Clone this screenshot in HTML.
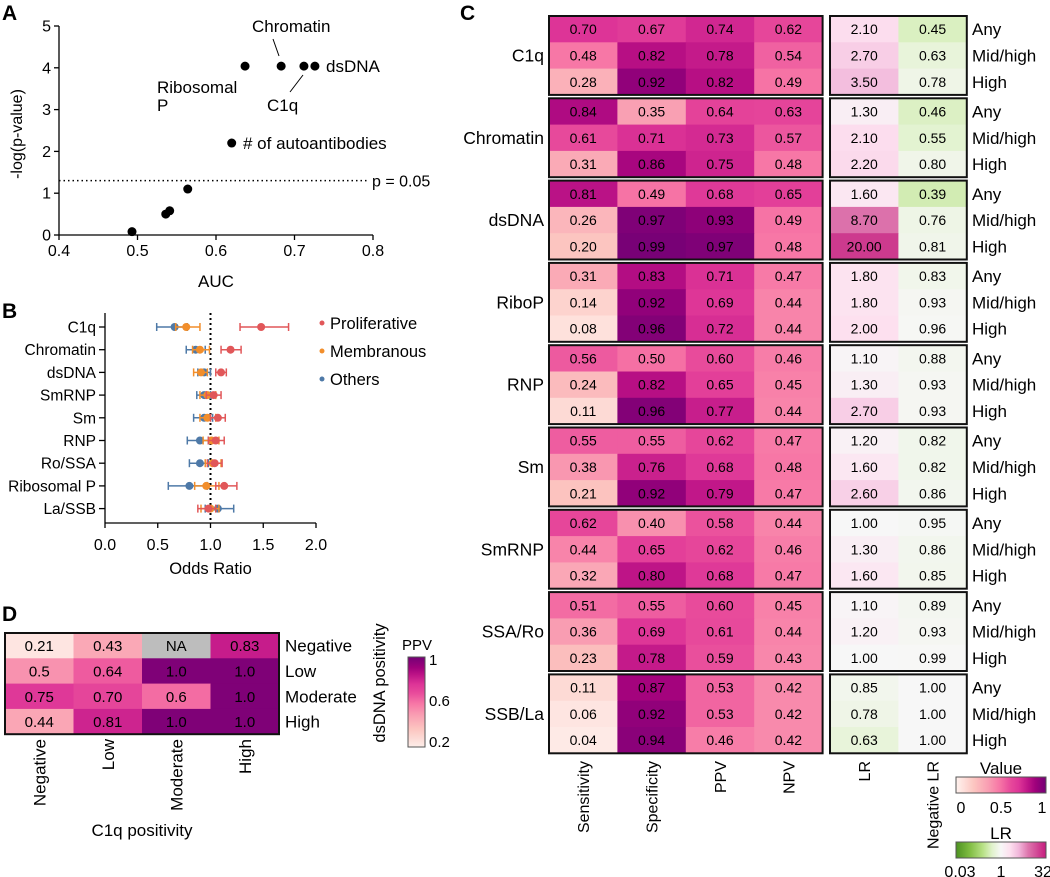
<!DOCTYPE html>
<html><head><meta charset="utf-8">
<style>
html,body{margin:0;padding:0;background:#fff;}
svg{display:block;font-family:"Liberation Sans",Arial,sans-serif;}
</style></head>
<body>
<svg id="fig" width="1050" height="877" viewBox="0 0 1050 877" xmlns="http://www.w3.org/2000/svg">
<defs>
<linearGradient id="gValue" x1="0" x2="1" y1="0" y2="0">
<stop offset="0" stop-color="#fff3ef"/><stop offset="0.2" stop-color="#fcc5c0"/><stop offset="0.36" stop-color="#f99db2"/><stop offset="0.48" stop-color="#f777a6"/><stop offset="0.6" stop-color="#e84b9b"/><stop offset="0.7" stop-color="#dd3497"/><stop offset="0.8" stop-color="#be1487"/><stop offset="0.88" stop-color="#a0017c"/><stop offset="1" stop-color="#740175"/>
</linearGradient>
<linearGradient id="gPPV" x1="0" x2="0" y1="1" y2="0">
<stop offset="0" stop-color="#fdeee9"/><stop offset="0.2" stop-color="#fcc5c0"/><stop offset="0.36" stop-color="#f99db2"/><stop offset="0.48" stop-color="#f777a6"/><stop offset="0.6" stop-color="#e84b9b"/><stop offset="0.7" stop-color="#dd3497"/><stop offset="0.8" stop-color="#be1487"/><stop offset="0.88" stop-color="#a0017c"/><stop offset="1" stop-color="#740175"/>
</linearGradient>
<linearGradient id="gLR" x1="0" x2="1" y1="0" y2="0">
<stop offset="0" stop-color="#4d9221"/><stop offset="0.15" stop-color="#7fbc41"/><stop offset="0.3" stop-color="#b8e186"/><stop offset="0.4" stop-color="#e0f2cb"/><stop offset="0.5" stop-color="#f7f7f7"/><stop offset="0.6" stop-color="#fde0ef"/><stop offset="0.7" stop-color="#f1b6da"/><stop offset="0.8" stop-color="#de77ae"/><stop offset="1" stop-color="#c51b7d"/>
</linearGradient>
</defs>
</svg>
<script>
// ---------- Panel A data ----------
const aucValues = [0.493, 0.536, 0.541, 0.564, 0.620, 0.637, 0.683, 0.712, 0.726];
const negLogP   = [0.08, 0.50, 0.58, 1.10, 2.20, 4.04, 4.04, 4.04, 4.04];
const aXTicks = [0.4, 0.5, 0.6, 0.7, 0.8];
const aYTicks = [0, 1, 2, 3, 4, 5];
const pThreshold = 1.3;

// ---------- Panel B data ----------
const bCategories = ["C1q","Chromatin","dsDNA","SmRNP","Sm","RNP","Ro/SSA","Ribosomal P","La/SSB"];
const prolifOR = [1.48, 1.19, 1.10, 1.03, 1.07, 1.05, 1.04, 1.13, 0.98];
const prolifLo = [1.28, 1.10, 1.05, 0.96, 1.00, 0.98, 0.97, 1.05, 0.88];
const prolifHi = [1.74, 1.29, 1.15, 1.10, 1.14, 1.13, 1.11, 1.25, 1.05];
const membrOR  = [0.77, 0.90, 0.91, 0.97, 0.97, 1.01, 1.02, 0.96, 1.00];
const membrLo  = [0.67, 0.83, 0.84, 0.90, 0.90, 0.93, 0.95, 0.85, 0.91];
const membrHi  = [0.90, 0.99, 0.97, 1.05, 1.05, 1.08, 1.10, 1.08, 1.08];
const otherOR  = [0.66, 0.86, 0.94, 0.94, 0.94, 0.90, 0.90, 0.80, 1.07];
const otherLo  = [0.49, 0.77, 0.88, 0.87, 0.84, 0.78, 0.80, 0.60, 0.95];
const otherHi  = [0.78, 0.95, 1.00, 1.00, 1.02, 0.98, 0.98, 0.97, 1.22];
const bXTicks = [0.0, 0.5, 1.0, 1.5, 2.0];

// ---------- Panel C data ----------
const cGroups = ["C1q","Chromatin","dsDNA","RiboP","RNP","Sm","SmRNP","SSA/Ro","SSB/La"];
const cLevels = ["Any","Mid/high","High"];
const cMetrics = ["Sensitivity","Specificity","PPV","NPV","LR","Negative LR"];
const sensitivity = [[0.70,0.48,0.28],[0.84,0.61,0.31],[0.81,0.26,0.20],[0.31,0.14,0.08],[0.56,0.24,0.11],[0.55,0.38,0.21],[0.62,0.44,0.32],[0.51,0.36,0.23],[0.11,0.06,0.04]];
const specificity = [[0.67,0.82,0.92],[0.35,0.71,0.86],[0.49,0.97,0.99],[0.83,0.92,0.96],[0.50,0.82,0.96],[0.55,0.76,0.92],[0.40,0.65,0.80],[0.55,0.69,0.78],[0.87,0.92,0.94]];
const ppv = [[0.74,0.78,0.82],[0.64,0.73,0.75],[0.68,0.93,0.97],[0.71,0.69,0.72],[0.60,0.65,0.77],[0.62,0.68,0.79],[0.58,0.62,0.68],[0.60,0.61,0.59],[0.53,0.53,0.46]];
const npv = [[0.62,0.54,0.49],[0.63,0.57,0.48],[0.65,0.49,0.48],[0.47,0.44,0.44],[0.46,0.45,0.44],[0.47,0.48,0.47],[0.44,0.46,0.47],[0.45,0.44,0.43],[0.42,0.42,0.42]];
const lr = [[2.10,2.70,3.50],[1.30,2.10,2.20],[1.60,8.70,20.00],[1.80,1.80,2.00],[1.10,1.30,2.70],[1.20,1.60,2.60],[1.00,1.30,1.60],[1.10,1.20,1.00],[0.85,0.78,0.63]];
const negLR = [[0.45,0.63,0.78],[0.46,0.55,0.80],[0.39,0.76,0.81],[0.83,0.93,0.96],[0.88,0.93,0.93],[0.82,0.82,0.86],[0.95,0.86,0.85],[0.89,0.93,0.99],[1.00,1.00,1.00]];

// ---------- Panel D data ----------
const dColLabels = ["Negative","Low","Moderate","High"];
const dRowLabels = ["Negative","Low","Moderate","High"];
const dValues = [[0.21,0.43,null,0.83],[0.5,0.64,1.0,1.0],[0.75,0.70,0.6,1.0],[0.44,0.81,1.0,1.0]];
const dText = [["0.21","0.43","NA","0.83"],["0.5","0.64","1.0","1.0"],["0.75","0.70","0.6","1.0"],["0.44","0.81","1.0","1.0"]];

const NS = "http://www.w3.org/2000/svg";
const svg = document.getElementById("fig");
function mk(tag, attrs, parent, text){
  const e = document.createElementNS(NS, tag);
  for (const k in attrs) e.setAttribute(k, attrs[k]);
  if (text !== undefined) e.textContent = text;
  (parent || svg).appendChild(e);
  return e;
}
function hex2rgb(h){return [parseInt(h.substr(1,2),16),parseInt(h.substr(3,2),16),parseInt(h.substr(5,2),16)];}
function interp(stops, t){
  t = Math.max(0, Math.min(1, t));
  for (let i=1;i<stops.length;i++){
    if (t <= stops[i][0]){
      const [t0,c0]=stops[i-1],[t1,c1]=stops[i];
      const f=(t-t0)/(t1-t0), a=hex2rgb(c0), b=hex2rgb(c1);
      return "rgb("+a.map((v,j)=>Math.round(v+(b[j]-v)*f)).join(",")+")";
    }
  }
  return stops[stops.length-1][1];
}
const valStops = [[0,"#fff3ef"],[0.2,"#fcc5c0"],[0.36,"#f99db2"],[0.48,"#f777a6"],[0.6,"#e84b9b"],[0.7,"#dd3497"],[0.8,"#be1487"],[0.88,"#a0017c"],[1,"#740175"]];
const piyg = [[0,"#4d9221"],[0.15,"#7fbc41"],[0.3,"#b8e186"],[0.4,"#e0f2cb"],[0.5,"#f7f7f7"],[0.6,"#fde0ef"],[0.7,"#f1b6da"],[0.8,"#de77ae"],[1,"#c51b7d"]];
function valueColor(v){return interp(valStops, v);}
function lrColor(v){
  const l = Math.log(v);
  const t = l < 0 ? 0.5 - 0.5*(l/Math.log(0.03)) : 0.5 + 0.5*(l/Math.log(32));
  return interp(piyg, t);
}
function ppvColor(v){return interp(valStops, (v-0.2)*1.15+0.05);}

// ================= PANEL A =================
const gA = mk("g", {});


const ax = v => 59 + (v-0.4)/0.4*314;
const ay = v => 235 - v*41.8;
let t = mk("text",{x:2,y:20,"font-size":21,"font-weight":"bold"},gA,"A");


let l = mk("line",{x1:59,y1:26,x2:59,y2:235,stroke:"#000","stroke-width":1.3},gA);


l = mk("line",{x1:59,y1:235,x2:373,y2:235,stroke:"#000","stroke-width":1.3},gA);


aYTicks.forEach(v=>{
  mk("line",{x1:54,y1:ay(v),x2:59,y2:ay(v),stroke:"#000","stroke-width":1.3},gA);
  const tt = mk("text",{x:51,y:ay(v)+5.5,"font-size":16,"text-anchor":"end"},gA,String(v));
  
  
});
aXTicks.forEach(v=>{
  mk("line",{x1:ax(v),y1:235,x2:ax(v),y2:240,stroke:"#000","stroke-width":1.3},gA);
  const tt = mk("text",{x:ax(v),y:256,"font-size":16,"text-anchor":"middle"},gA,v.toFixed(1));
  
  
});
t = mk("text",{x:216,y:287,"font-size":17,"text-anchor":"middle"},gA,"AUC");


t = mk("text",{x:0,y:0,"font-size":16,"text-anchor":"middle",transform:"translate(22,134) rotate(-90)"},gA,"-log(p-value)");


l = mk("line",{x1:59,y1:ay(pThreshold),x2:368,y2:ay(pThreshold),stroke:"#000","stroke-width":1.5,"stroke-dasharray":"1.5,3"},gA);


t = mk("text",{x:372,y:ay(pThreshold)+6,"font-size":16},gA,"p = 0.05");


aucValues.forEach((v,i)=>{
  const c = mk("circle",{cx:ax(v),cy:ay(negLogP[i]),r:4.5,fill:"#000"},gA);
  
  
});
[["Chromatin",252,32],["dsDNA",326,72],["C1q",267,111],["Ribosomal",157,93],["P",157,111],["# of autoantibodies",243,149]].forEach(d=>{
  const tt = mk("text",{x:d[1],y:d[2],"font-size":17},gA,d[0]);
  
  
});
mk("line",{x1:273,y1:39,x2:279,y2:56,stroke:"#000","stroke-width":1},gA);
mk("line",{x1:290,y1:92,x2:303,y2:75,stroke:"#000","stroke-width":1},gA);

// ================= PANEL B =================
const gB = mk("g", {});


const bx = v => 105 + v*105.5;
const by = i => 327 + i*22.7;
t = mk("text",{x:2,y:318,"font-size":21,"font-weight":"bold"},gB,"B");


l = mk("line",{x1:105,y1:313,x2:105,y2:523,stroke:"#000","stroke-width":1.3},gB);


l = mk("line",{x1:105,y1:523,x2:316,y2:523,stroke:"#000","stroke-width":1.3},gB);


bXTicks.forEach(v=>{
  mk("line",{x1:bx(v),y1:523,x2:bx(v),y2:528,stroke:"#000","stroke-width":1.3},gB);
  const tt = mk("text",{x:bx(v),y:550,"font-size":16,"text-anchor":"middle"},gB,v.toFixed(1));
  
  
});
t = mk("text",{x:bx(1),y:574,"font-size":16.5,"text-anchor":"middle"},gB,"Odds Ratio");


l = mk("line",{x1:bx(1),y1:313,x2:bx(1),y2:523,stroke:"#000","stroke-width":2,"stroke-dasharray":"2,3"},gB);


bCategories.forEach((c,i)=>{
  mk("line",{x1:99,y1:by(i),x2:105,y2:by(i),stroke:"#000","stroke-width":1.3},gB);
  const tt = mk("text",{x:96,y:by(i)+5.5,"font-size":15.5,"text-anchor":"end"},gB,c);
  
  
});
const series = [
  {name:"others", col:"#4e79a7", or:otherOR, lo:otherLo, hi:otherHi},
  {name:"membranous", col:"#f28e2b", or:membrOR, lo:membrLo, hi:membrHi},
  {name:"proliferative", col:"#e15759", or:prolifOR, lo:prolifLo, hi:prolifHi}
];
series.forEach(s=>{
  s.or.forEach((v,i)=>{
    const y = by(i);
    const g = mk("g",{},gB);
    
    
    mk("line",{x1:bx(s.lo[i]),y1:y,x2:bx(s.hi[i]),y2:y,stroke:s.col,"stroke-width":1.5},g);
    mk("line",{x1:bx(s.lo[i]),y1:y-4,x2:bx(s.lo[i]),y2:y+4,stroke:s.col,"stroke-width":1.5},g);
    mk("line",{x1:bx(s.hi[i]),y1:y-4,x2:bx(s.hi[i]),y2:y+4,stroke:s.col,"stroke-width":1.5},g);
    mk("circle",{cx:bx(v),cy:y,r:4,fill:s.col},g);
  });
});
[["Proliferative","#e15759",323],["Membranous","#f28e2b",351],["Others","#4e79a7",379]].forEach(d=>{
  const g = mk("g",{},gB);
  
  
  mk("circle",{cx:322,cy:d[2],r:2.5,fill:d[1]},g);
  mk("text",{x:330,y:d[2]+6,"font-size":16.5},g,d[0]);
});

// ================= PANEL C =================
const gC = mk("g", {});


t = mk("text",{x:460,y:20,"font-size":21,"font-weight":"bold"},gC,"C");


const cLeftX = 549, cRightX = 830, cColW = 68.4, cRowH = 26.3, cTop = 16, cPitch = 82.3;
const cTables = [sensitivity, specificity, ppv, npv, lr, negLR];
cGroups.forEach((gname,g)=>{
  const gy = cTop + g*cPitch;
  for (let r=0;r<3;r++){
    for (let m=0;m<6;m++){
      const v = cTables[m][g][r];
      const x = m<4 ? cLeftX + m*cColW : cRightX + (m-4)*cColW;
      const y = gy + r*cRowH;
      const fill = m<4 ? valueColor(v) : lrColor(v);
      const cell = mk("rect",{x:x,y:y,width:cColW+0.5,height:cRowH+0.5,fill:fill},gC);
      
      
      const tt = mk("text",{x:x+cColW/2,y:y+cRowH/2+5,"font-size":14,"text-anchor":"middle"},gC,v.toFixed(2));
      
      
    }
    const rl = mk("text",{x:972,y:gy + r*cRowH + cRowH/2 + 6,"font-size":17},gC,cLevels[r]);
    
    
  }
  let b = mk("rect",{x:cLeftX,y:gy,width:4*cColW,height:3*cRowH,fill:"none",stroke:"#111","stroke-width":2},gC);
  
  
  b = mk("rect",{x:cRightX,y:gy,width:2*cColW,height:3*cRowH,fill:"none",stroke:"#111","stroke-width":2},gC);
  
  
  const gl = mk("text",{x:544,y:gy+1.5*cRowH+6,"font-size":17.5,"text-anchor":"end"},gC,gname);
  
  
});
cMetrics.forEach((mname,m)=>{
  const cx = (m<4 ? cLeftX + m*cColW : cRightX + (m-4)*cColW) + cColW/2;
  const tt = mk("text",{x:0,y:0,"font-size":16,"text-anchor":"end",transform:"translate("+(cx+6)+",761) rotate(-90)"},gC,mname);
  
  
});
const gLeg = mk("g",{},gC);


mk("text",{x:1001,y:774,"font-size":17,"text-anchor":"middle"},gLeg,"Value");
let cb = mk("rect",{x:956,y:777,width:90,height:16,fill:"url(#gValue)",stroke:"#555","stroke-width":1},gLeg);


[["0",961],["0.5",1001],["1",1042]].forEach(d=>mk("text",{x:d[1],y:813,"font-size":16,"text-anchor":"middle"},gLeg,d[0]));
mk("text",{x:1001,y:839,"font-size":17,"text-anchor":"middle"},gLeg,"LR");
cb = mk("rect",{x:956,y:842,width:90,height:16,fill:"url(#gLR)",stroke:"#555","stroke-width":1},gLeg);


[["0.03",960],["1",1001],["32",1043]].forEach(d=>mk("text",{x:d[1],y:877,"font-size":16,"text-anchor":"middle"},gLeg,d[0]));

// ================= PANEL D =================
const gD = mk("g", {});


t = mk("text",{x:2,y:621,"font-size":21,"font-weight":"bold"},gD,"D");


const dX = 5, dY = 633, dW = 68.5, dH = 25.3;
dValues.forEach((row,r)=>{
  row.forEach((v,c)=>{
    const cell = mk("rect",{x:dX+c*dW,y:dY+r*dH,width:dW+0.5,height:dH+0.5,fill: v===null ? "#bdbdbd" : ppvColor(v)},gD);
    
    
    const tt = mk("text",{x:dX+c*dW+dW/2,y:dY+r*dH+dH/2+5.5,"font-size":15,"text-anchor":"middle"},gD,dText[r][c]);
    
    
  });
  const rl = mk("text",{x:285,y:dY+r*dH+dH/2+6,"font-size":17},gD,dRowLabels[r]);
  
  
});
let db = mk("rect",{x:dX,y:dY,width:4*dW,height:4*dH,fill:"none",stroke:"#111","stroke-width":2},gD);


dColLabels.forEach((c,i)=>{
  const cx = dX + i*dW + dW/2;
  const tt = mk("text",{x:0,y:0,"font-size":17,"text-anchor":"end",transform:"translate("+(cx+6)+",739) rotate(-90)"},gD,c);
  
  
});
t = mk("text",{x:142,y:836,"font-size":17,"text-anchor":"middle"},gD,"C1q positivity");


t = mk("text",{x:0,y:0,"font-size":16.5,"text-anchor":"middle",transform:"translate(385,683) rotate(-90)"},gD,"dsDNA positivity");


mk("text",{x:417,y:650,"font-size":15,"text-anchor":"middle"},gD,"PPV");
cb = mk("rect",{x:408,y:657,width:17,height:90,fill:"url(#gPPV)",stroke:"#555","stroke-width":1},gD);


[["1",665],["0.6",706],["0.2",747]].forEach(d=>mk("text",{x:429,y:d[1],"font-size":15},gD,d[0]));
</script>
</body></html>
